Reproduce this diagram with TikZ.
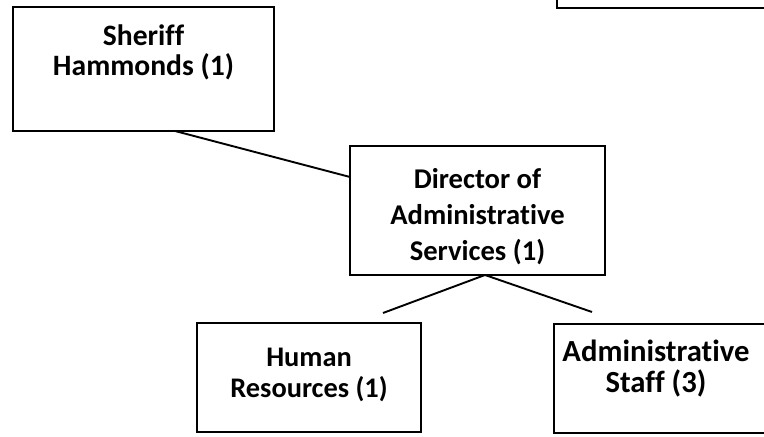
\documentclass[tikz,border=0pt]{standalone}
\usepackage{fontspec}
\setmainfont{Carlito}[Ligatures=NoCommon]
\begin{document}
\begin{tikzpicture}[x=1bp,y=-1bp,
  box/.style={draw=black, line width=2.2bp, rectangle, inner sep=0pt, fill=white},
  txt/.style={align=center, inner sep=0pt, anchor=north},
  conn/.style={draw=black, line width=1.9bp}]
\useasboundingbox (0,0) rectangle (764,437);
% partial box at top right
\draw[line width=2.2bp] (557,0) -- (557,8) -- (764,8);
% boxes
\node[box, minimum width=261bp, minimum height=124bp] (sheriff) at (143.5,69) {};
\node[box, minimum width=255bp, minimum height=129bp] (director) at (477.5,210.5) {};
\node[box, minimum width=224bp, minimum height=109bp] (hr) at (309,377.5) {};
\node[box, minimum width=230bp, minimum height=109bp] (staff) at (669,378.5) {};
% texts
\node[txt, font={\fontsize{29.7}{30}\selectfont\bfseries}] (sheriffT) at (143.5,25) {Sheriff\\Hammonds (1)};
\node[txt, font={\fontsize{28.7}{36.5}\selectfont\bfseries}] (directorT) at (477.5,168) {Director of\\Administrative\\Services (1)};
\node[txt, font={\fontsize{28.5}{32}\selectfont\bfseries}] (hrT) at (309,347.5) {Human\\Resources (1)};
\node[txt, font={\fontsize{30.8}{31}\selectfont\bfseries}] (staffT) at (656,340) {Administrative\\Staff (3)};
% connectors
\coordinate (sA) at (175,131);
\coordinate (dL) at (350,177);
\coordinate (dB) at (485,275);
\coordinate (hrEnd) at (383,313);
\coordinate (stEnd) at (592,312);
\draw[conn] (sA) -- (dL);
\draw[conn] (dB) -- (hrEnd);
\draw[conn] (dB) -- (stEnd);
\end{tikzpicture}
\end{document}
